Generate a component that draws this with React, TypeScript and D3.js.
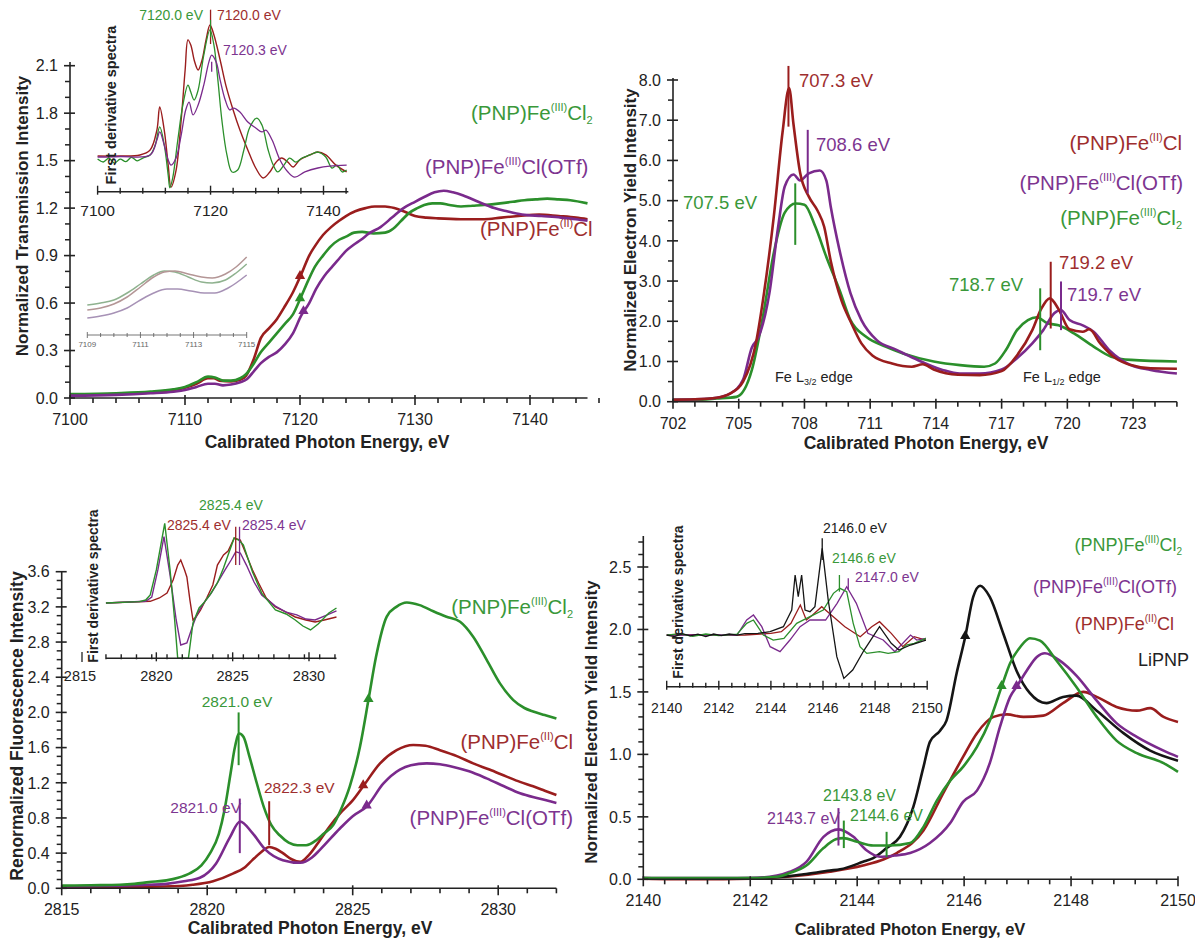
import React from "react";
import * as d3 from "d3";

type Pt = [number, number];

const GREEN = "#2b8f2b";
const RED = "#9a1d1d";
const PURPLE = "#7a2a8c";
const BLACK = "#151515";
const GREEN_T = "#3a983a";
const RED_T = "#9e2e2e";
const PURPLE_T = "#7d3590";
const AXIS = "#222";
const FONT = "'Liberation Sans', Arial, Helvetica, sans-serif";

// ---------------- Panel 1 : Fe K-edge transmission ----------------
const P1_RED: Pt[] = [[7100,0.02],[7104,0.025],[7107,0.035],[7109,0.05],[7110,0.065],[7111,0.09],[7112,0.125],[7112.5,0.125],[7113,0.11],[7114,0.105],[7114.8,0.115],[7115.3,0.14],[7116,0.25],[7116.6,0.38],[7117.3,0.44],[7118,0.5],[7118.6,0.57],[7119.4,0.67],[7120.1,0.78],[7120.8,0.9],[7121.3,0.96],[7122,1.03],[7122.7,1.08],[7123.4,1.12],[7124,1.15],[7124.8,1.18],[7125.7,1.2],[7126.5,1.21],[7127.4,1.21],[7128.2,1.2],[7129,1.18],[7130,1.15],[7131,1.14],[7132,1.135],[7134,1.13],[7136,1.13],[7137.5,1.14],[7139,1.15],[7140.8,1.16],[7142.5,1.15],[7144,1.14],[7145,1.13]];
const P1_GREEN: Pt[] = [[7100,0.025],[7104,0.03],[7107,0.04],[7109,0.055],[7110,0.07],[7111,0.1],[7112,0.135],[7112.6,0.13],[7113.3,0.11],[7114,0.11],[7114.8,0.125],[7115.3,0.15],[7116,0.22],[7116.6,0.29],[7117.3,0.35],[7118,0.41],[7118.7,0.47],[7119.4,0.53],[7120.1,0.64],[7120.7,0.74],[7121.3,0.83],[7122,0.9],[7122.7,0.96],[7123.4,1.0],[7124,1.02],[7124.7,1.045],[7125.4,1.05],[7126.4,1.04],[7127.4,1.045],[7128.1,1.07],[7128.8,1.12],[7129.5,1.17],[7130.2,1.2],[7130.8,1.22],[7131.5,1.23],[7132.2,1.23],[7133,1.22],[7134,1.21],[7135,1.215],[7136,1.22],[7137.4,1.23],[7138.5,1.24],[7139.5,1.25],[7140.5,1.255],[7141.5,1.26],[7142.5,1.255],[7143.5,1.25],[7145,1.23]];
const P1_PURPLE: Pt[] = [[7100,0.015],[7104,0.02],[7107,0.03],[7109,0.04],[7110,0.05],[7111,0.07],[7112,0.09],[7112.6,0.09],[7113.3,0.08],[7114,0.085],[7114.8,0.1],[7115.4,0.12],[7116,0.17],[7116.6,0.22],[7117.3,0.26],[7118,0.29],[7118.7,0.34],[7119.4,0.41],[7120.1,0.52],[7120.8,0.6],[7121.4,0.69],[7122.1,0.77],[7122.8,0.83],[7123.4,0.88],[7124,0.93],[7124.7,0.97],[7125.3,1.0],[7126,1.04],[7127,1.08],[7128,1.14],[7129,1.2],[7130,1.24],[7130.8,1.27],[7131.7,1.3],[7132.5,1.31],[7133.3,1.3],[7134.2,1.28],[7135.5,1.24],[7136.9,1.2],[7138,1.18],[7139.3,1.16],[7141,1.15],[7142.7,1.14],[7144,1.13],[7145,1.12]];
const P1_X_TICKS = [7100, 7110, 7120, 7130, 7140];
const P1_Y_TICKS = [0, 0.3, 0.6, 0.9, 1.2, 1.5, 1.8, 2.1];
const P1_TRI = { red: 7120.0, green: 7120.0, purple: 7120.3 };

// inset 1: first derivative spectra (relative units)
const I1_RED: Pt[] = [[7100,0.208],[7104,0.208],[7107.5,0.214],[7109.3,0.243],[7110.5,0.359],[7111,0.493],[7111.8,0.359],[7112.5,0.155],[7113,0.027],[7113.9,0.126],[7114.8,0.418],[7115.5,0.709],[7116,0.884],[7116.5,0.854],[7117.2,0.755],[7117.8,0.709],[7118.5,0.767],[7119.2,0.884],[7119.9,0.971],[7120.6,0.913],[7121.7,0.767],[7122.7,0.621],[7124,0.476],[7125.2,0.359],[7126.6,0.243],[7128,0.138],[7129.3,0.08],[7130.5,0.115],[7131.6,0.172],[7132.6,0.196],[7133.7,0.172],[7134.6,0.144],[7135.8,0.185],[7137.6,0.214],[7139,0.231],[7140.4,0.214],[7142.2,0.155],[7144.1,0.115]];
const I1_GREEN: Pt[] = [[7100,0.19],[7101,0.173],[7102,0.196],[7103,0.167],[7104,0.19],[7105,0.175],[7106,0.2],[7107,0.18],[7108,0.196],[7109.3,0.214],[7110.2,0.272],[7111,0.377],[7111.8,0.272],[7112.5,0.097],[7112.8,0.022],[7113.3,0.08],[7114.2,0.301],[7115.1,0.505],[7116,0.621],[7116.5,0.58],[7117.1,0.534],[7117.8,0.592],[7118.8,0.796],[7119.9,0.942],[7120.6,0.854],[7121.3,0.65],[7122,0.418],[7122.9,0.214],[7123.8,0.115],[7124.8,0.126],[7125.9,0.243],[7126.9,0.371],[7128.2,0.429],[7129.1,0.388],[7130.2,0.243],[7131.1,0.155],[7131.9,0.115],[7133,0.155],[7134,0.196],[7135.1,0.172],[7136.2,0.196],[7137.6,0.214],[7139,0.231],[7140.4,0.202],[7141.5,0.138],[7142.4,0.155],[7143.3,0.115],[7144.1,0.126]];
const I1_PURPLE: Pt[] = [[7100,0.202],[7104,0.205],[7109.3,0.214],[7110.5,0.301],[7111,0.348],[7111.8,0.272],[7112.5,0.185],[7113,0.155],[7113.9,0.196],[7114.8,0.33],[7115.6,0.476],[7116.2,0.522],[7116.9,0.447],[7117.8,0.505],[7118.8,0.621],[7119.7,0.755],[7120.2,0.796],[7121,0.755],[7121.7,0.65],[7122.6,0.534],[7123.4,0.476],[7124.1,0.487],[7125.2,0.464],[7126.6,0.406],[7128,0.371],[7129.1,0.348],[7129.8,0.359],[7130.9,0.301],[7132.3,0.185],[7133.7,0.115],[7134.9,0.085],[7136.7,0.115],[7139,0.138],[7141.1,0.149],[7144.1,0.155]];
const I1_X_TICKS = [7100, 7120, 7140];
const I1_PEAK_LABELS = [7120.0, 7120.0, 7120.3];

// inset 2: pre-edge zoom
const I2_RED: Pt[] = [[7109,0.25],[7109.5,0.27],[7110,0.31],[7110.5,0.38],[7111,0.48],[7111.5,0.58],[7111.9,0.63],[7112.3,0.64],[7112.8,0.61],[7113.3,0.58],[7113.7,0.57],[7114.2,0.61],[7114.6,0.68],[7115,0.78]];
const I2_GREEN: Pt[] = [[7109,0.3],[7109.5,0.32],[7110,0.35],[7110.5,0.42],[7111,0.51],[7111.5,0.6],[7111.9,0.64],[7112.3,0.63],[7112.8,0.58],[7113.3,0.53],[7113.7,0.52],[7114.2,0.55],[7114.6,0.62],[7115,0.71]];
const I2_PURPLE: Pt[] = [[7109,0.17],[7109.5,0.19],[7110,0.22],[7110.5,0.27],[7111,0.35],[7111.5,0.42],[7112,0.46],[7112.4,0.46],[7112.9,0.44],[7113.4,0.42],[7113.8,0.42],[7114.3,0.47],[7115,0.6]];
const I2_X_TICKS = [7109, 7111, 7113, 7115];

// ---------------- Panel 2 : Fe L-edge ----------------
const P2_RED: Pt[] = [[702,0.05],[703,0.06],[704,0.1],[704.6,0.2],[705.2,0.5],[705.8,1.5],[706.1,2.5],[706.6,4.6],[707,6.7],[707.3,7.8],[707.5,6.9],[707.8,5.7],[708.2,5.1],[708.6,4.75],[708.9,4.35],[709.2,3.5],[709.7,2.5],[710.1,2.0],[710.6,1.45],[711.1,1.15],[712,0.95],[712.9,0.87],[713.4,0.93],[713.9,0.8],[715,0.67],[716,0.66],[717,0.76],[717.7,1.15],[718.4,1.78],[718.8,2.3],[719.2,2.57],[719.6,2.3],[720.1,1.8],[720.7,1.74],[721,1.8],[721.5,1.45],[722.2,1.08],[722.9,0.91],[723.8,0.83],[725,0.82]];
const P2_PURPLE: Pt[] = [[702,0.05],[703,0.06],[704,0.1],[704.6,0.2],[705.2,0.55],[705.6,1.35],[705.9,1.6],[706.4,2.7],[706.8,4.35],[707.1,5.35],[707.5,5.65],[707.8,5.5],[708.2,5.68],[708.7,5.75],[709,5.5],[709.2,4.85],[709.6,3.77],[710.1,2.7],[710.6,2.03],[711.3,1.53],[712.2,1.29],[713,1.08],[714.3,0.79],[715.1,0.7],[716,0.7],[717,0.8],[717.7,1.08],[718.4,1.45],[718.9,1.78],[719.4,2.2],[719.7,2.28],[720.1,2.03],[720.7,1.9],[721.2,1.74],[721.9,1.29],[722.9,0.91],[723.8,0.79],[725,0.7]];
const P2_GREEN: Pt[] = [[702,0.05],[703,0.05],[704,0.08],[704.9,0.12],[705.6,0.79],[706.1,2.1],[706.6,3.7],[707.1,4.7],[707.6,4.93],[708,4.9],[708.5,4.35],[709,3.6],[709.6,2.78],[710.1,2.03],[710.8,1.62],[711.7,1.37],[712.5,1.2],[713.9,1.0],[715.1,0.91],[716.2,0.87],[716.7,0.95],[717.2,1.29],[717.7,1.78],[718.2,2.03],[718.6,2.1],[719.1,1.95],[719.6,1.9],[720.3,1.7],[721.2,1.37],[722,1.12],[722.9,1.04],[725,1.0]];
const P2_X_TICKS = [702, 705, 708, 711, 714, 717, 720, 723];
const P2_Y_TICKS = [0, 1, 2, 3, 4, 5, 6, 7, 8];
// marker lines: [energy, top, bottom]
const P2_MARK_RED: [number, number, number][] = [[707.27, 8.35, 6.84], [719.24, 3.48, 1.82]];
const P2_MARK_PURPLE: [number, number, number][] = [[708.15, 6.76, 5.18], [719.71, 2.99, 1.78]];
const P2_MARK_GREEN: [number, number, number][] = [[707.58, 5.43, 3.9], [718.76, 2.82, 1.28]];
const P2_PEAK_LABELS = { red: [707.3, 719.2], purple: [708.6, 719.7], green: [707.5, 718.7] };

// ---------------- Panel 3 : S K-edge fluorescence ----------------
const P3_GREEN: Pt[] = [[2815,0.03],[2816,0.035],[2817,0.04],[2817.5,0.05],[2818,0.07],[2818.6,0.09],[2819,0.12],[2819.4,0.17],[2819.8,0.26],[2820.1,0.4],[2820.4,0.62],[2820.6,0.9],[2820.8,1.3],[2820.95,1.6],[2821.1,1.76],[2821.25,1.72],[2821.45,1.5],[2821.7,1.2],[2821.95,0.92],[2822.2,0.72],[2822.5,0.6],[2822.8,0.52],[2823.1,0.49],[2823.4,0.49],[2823.76,0.55],[2824,0.62],[2824.33,0.72],[2824.6,0.9],[2824.9,1.16],[2825.25,1.61],[2825.54,2.14],[2825.8,2.63],[2826.17,3.09],[2826.5,3.2],[2826.86,3.25],[2827.3,3.22],[2827.77,3.15],[2828.2,3.09],[2828.69,3.03],[2829.14,2.86],[2829.6,2.6],[2830.06,2.33],[2830.52,2.14],[2830.9,2.05],[2831.2,2.01],[2831.6,1.97],[2832,1.93]];
const P3_PURPLE: Pt[] = [[2815,0.02],[2816,0.025],[2817,0.03],[2818,0.04],[2818.6,0.05],[2819.2,0.08],[2819.75,0.12],[2820.3,0.28],[2820.78,0.58],[2821.13,0.76],[2821.55,0.63],[2822,0.44],[2822.6,0.32],[2823.2,0.29],[2823.6,0.35],[2823.88,0.44],[2824.56,0.68],[2825,0.82],[2825.48,0.93],[2826.05,1.19],[2826.62,1.35],[2827,1.4],[2827.54,1.42],[2828,1.41],[2828.46,1.38],[2829,1.33],[2829.6,1.25],[2830.2,1.16],[2830.75,1.08],[2831.4,1.02],[2832,0.97]];
const P3_RED: Pt[] = [[2815,0.01],[2817,0.015],[2818.5,0.02],[2819.5,0.04],[2820.2,0.08],[2820.9,0.17],[2821.3,0.24],[2821.55,0.32],[2821.85,0.41],[2822.13,0.47],[2822.35,0.45],[2822.6,0.4],[2822.9,0.33],[2823.2,0.3],[2823.5,0.38],[2823.88,0.55],[2824.2,0.7],[2824.56,0.85],[2825,1.0],[2825.36,1.16],[2825.94,1.42],[2826.51,1.57],[2827.08,1.63],[2827.5,1.62],[2828,1.57],[2828.6,1.5],[2829.14,1.42],[2829.7,1.35],[2830.29,1.27],[2830.75,1.21],[2831.2,1.16],[2831.6,1.11],[2832,1.06]];
const P3_X_TICKS = [2815, 2820, 2825, 2830];
const P3_Y_TICKS = [0, 0.4, 0.8, 1.2, 1.6, 2.0, 2.4, 2.8, 3.2, 3.6];
const P3_TRI = { green: 2825.54, red: 2825.36, purple: 2825.48 };
const P3_MARK_GREEN: [number, number, number] = [2821.08, 2.0, 1.4];
const P3_MARK_PURPLE: [number, number, number] = [2821.12, 1.02, 0.4];
const P3_MARK_RED: [number, number, number] = [2822.13, 0.99, 0.49];
const P3_PEAK_LABELS = { green: 2821.0, purple: 2821.0, red: 2822.3 };

const I3_GREEN: Pt[] = [[2816.7,0.349],[2818.9,0.358],[2819.3,0.368],[2819.6,0.4],[2820,0.558],[2820.55,0.853],[2820.9,0.558],[2821.2,0.242],[2821.4,0.0],[2822.1,0.0],[2822.4,0.223],[2822.8,0.318],[2823.1,0.349],[2823.5,0.4],[2824,0.476],[2824.4,0.57],[2824.7,0.653],[2825.1,0.76],[2825.4,0.747],[2825.7,0.716],[2826.3,0.545],[2826.9,0.412],[2827.8,0.305],[2828.5,0.28],[2829.1,0.242],[2829.6,0.204],[2830.1,0.179],[2830.6,0.217],[2831.3,0.286],[2831.8,0.318]];
const I3_PURPLE: Pt[] = [[2816.7,0.349],[2819.3,0.36],[2819.7,0.387],[2820.1,0.558],[2820.5,0.768],[2820.9,0.526],[2821.3,0.242],[2821.6,0.084],[2822,0.097],[2822.4,0.21],[2822.7,0.286],[2823.1,0.349],[2823.6,0.412],[2824,0.476],[2824.5,0.558],[2824.9,0.621],[2825.2,0.672],[2825.5,0.665],[2825.9,0.589],[2826.4,0.482],[2826.9,0.4],[2827.8,0.33],[2828.5,0.292],[2829.2,0.274],[2829.8,0.248],[2830.4,0.242],[2831,0.267],[2831.8,0.299]];
const I3_RED: Pt[] = [[2816.7,0.349],[2819.6,0.36],[2820.2,0.381],[2820.7,0.412],[2821.1,0.495],[2821.4,0.589],[2821.6,0.621],[2821.85,0.558],[2822,0.514],[2822.2,0.368],[2822.4,0.242],[2822.6,0.261],[2822.9,0.305],[2823.3,0.381],[2823.7,0.463],[2824,0.589],[2824.4,0.653],[2824.7,0.678],[2825.1,0.76],[2825.5,0.747],[2825.9,0.653],[2826.3,0.558],[2826.7,0.476],[2827.2,0.381],[2827.8,0.324],[2828.5,0.292],[2829.1,0.261],[2829.8,0.242],[2830.4,0.229],[2831,0.242],[2831.8,0.261]];
const I3_X_TICKS = [2815, 2820, 2825, 2830];
const I3_MARKS: [number, number, number][] = [[2825.2, 0.831, 0.589], [2825.45, 0.831, 0.589]];
const I3_PEAK_LABELS = [2825.4, 2825.4, 2825.4];

// ---------------- Panel 4 : P K-edge ----------------
const P4_BLACK: Pt[] = [[2140,0.01],[2141,0.005],[2142,0.01],[2142.6,0.02],[2143,0.04],[2143.49,0.07],[2143.68,0.08],[2144.11,0.14],[2144.3,0.17],[2144.55,0.25],[2144.8,0.34],[2145.05,0.58],[2145.24,0.9],[2145.36,1.1],[2145.55,1.19],[2145.67,1.27],[2145.86,1.65],[2146.02,1.94],[2146.17,2.26],[2146.3,2.35],[2146.48,2.26],[2146.73,1.97],[2146.98,1.67],[2147.23,1.49],[2147.54,1.41],[2147.85,1.46],[2148.1,1.47],[2148.48,1.35],[2148.98,1.17],[2149.48,1.03],[2150,0.95]];
const P4_GREEN: Pt[] = [[2140,0.01],[2141,0.01],[2142,0.01],[2142.5,0.02],[2142.74,0.05],[2143.05,0.11],[2143.37,0.25],[2143.6,0.32],[2143.74,0.33],[2144,0.3],[2144.3,0.27],[2144.61,0.27],[2144.99,0.29],[2145.24,0.42],[2145.49,0.63],[2145.74,0.79],[2145.98,0.9],[2146.24,1.06],[2146.48,1.27],[2146.7,1.54],[2146.86,1.73],[2147.05,1.86],[2147.23,1.93],[2147.42,1.91],[2147.73,1.75],[2148.1,1.54],[2148.48,1.3],[2148.85,1.11],[2149.23,1.01],[2149.73,0.93],[2150,0.86]];
const P4_PURPLE: Pt[] = [[2140,0.01],[2141,0.01],[2142,0.01],[2142.5,0.03],[2142.74,0.06],[2143.05,0.14],[2143.37,0.34],[2143.65,0.4],[2143.93,0.34],[2144.18,0.23],[2144.43,0.18],[2144.7,0.19],[2144.99,0.21],[2145.36,0.29],[2145.74,0.45],[2145.98,0.62],[2146.24,0.71],[2146.48,0.93],[2146.67,1.22],[2146.86,1.46],[2146.98,1.54],[2147.17,1.67],[2147.36,1.78],[2147.51,1.81],[2147.79,1.75],[2148.1,1.63],[2148.48,1.43],[2148.85,1.25],[2149.23,1.14],[2149.73,1.03],[2150,0.98]];
const P4_RED: Pt[] = [[2140,0.005],[2141,0.0],[2142,0.005],[2142.7,0.02],[2143.49,0.06],[2144.11,0.11],[2144.5,0.16],[2144.74,0.21],[2145.24,0.39],[2145.61,0.69],[2145.98,0.98],[2146.24,1.17],[2146.55,1.3],[2146.8,1.32],[2147.11,1.3],[2147.48,1.31],[2147.85,1.41],[2148.23,1.5],[2148.48,1.46],[2148.85,1.38],[2149.23,1.35],[2149.48,1.37],[2149.73,1.3],[2150,1.26]];
const P4_X_TICKS = [2140, 2142, 2144, 2146, 2148, 2150];
const P4_Y_TICKS = [0, 0.5, 1.0, 1.5, 2.0, 2.5];
const P4_TRI = { black: 2146.02, green: 2146.7, purple: 2146.98 };
const P4_MARK_PURPLE: [number, number, number] = [2143.65, 0.57, 0.27];
const P4_MARK_GREEN: [number, number, number][] = [[2143.75, 0.47, 0.25], [2144.55, 0.38, 0.18]];
const P4_PEAK_LABELS = { purple: 2143.7, green: [2143.8, 2144.6] };

const I4_BLACK: Pt[] = [[2140,0.31],[2140.3,0.3],[2140.6,0.318],[2140.9,0.305],[2141.2,0.315],[2141.5,0.3],[2141.8,0.316],[2142.1,0.306],[2142.4,0.316],[2142.7,0.31],[2143,0.318],[2143.5,0.32],[2143.97,0.33],[2144.48,0.36],[2144.8,0.46],[2144.93,0.67],[2145.05,0.54],[2145.18,0.67],[2145.31,0.46],[2145.5,0.45],[2145.69,0.48],[2145.97,0.83],[2146.2,0.52],[2146.53,0.18],[2146.8,0.05],[2147.14,0.1],[2147.58,0.22],[2148.17,0.36],[2148.62,0.26],[2148.91,0.22],[2149.36,0.25],[2149.95,0.28]];
const I4_GREEN: Pt[] = [[2140,0.31],[2140.5,0.318],[2141,0.302],[2141.5,0.316],[2142,0.306],[2142.7,0.315],[2143.07,0.38],[2143.33,0.4],[2143.71,0.31],[2144.09,0.28],[2144.5,0.29],[2144.99,0.38],[2145.5,0.42],[2146.01,0.46],[2146.4,0.56],[2146.65,0.59],[2146.91,0.57],[2147.16,0.38],[2147.42,0.24],[2147.68,0.2],[2148.17,0.21],[2148.5,0.2],[2148.91,0.21],[2149.2,0.25],[2149.5,0.26],[2149.95,0.29]];
const I4_PURPLE: Pt[] = [[2140,0.31],[2141,0.31],[2142,0.31],[2142.7,0.31],[2143.07,0.4],[2143.33,0.43],[2143.65,0.36],[2143.97,0.24],[2144.35,0.21],[2144.73,0.28],[2145.12,0.36],[2145.5,0.4],[2146.1,0.4],[2146.54,0.5],[2146.91,0.6],[2147.28,0.5],[2147.72,0.32],[2148.31,0.28],[2148.76,0.21],[2149,0.25],[2149.36,0.31],[2149.6,0.28],[2149.95,0.29]];
const I4_RED: Pt[] = [[2140,0.31],[2141,0.312],[2142,0.308],[2143,0.31],[2144,0.32],[2144.4,0.33],[2144.77,0.38],[2145.13,0.49],[2145.36,0.4],[2145.6,0.43],[2145.95,0.48],[2146.24,0.44],[2146.84,0.36],[2147.43,0.3],[2147.87,0.36],[2148.17,0.39],[2148.62,0.32],[2149.06,0.24],[2149.5,0.3],[2149.95,0.28]];
const I4_X_TICKS = [2140, 2142, 2144, 2146, 2148, 2150];
const I4_MARKS: { black: [number, number, number]; green: [number, number, number]; purple: [number, number, number] } = {
  black: [2145.97, 0.89, 0.76],
  green: [2146.63, 0.67, 0.57],
  purple: [2146.97, 0.65, 0.58],
};
const I4_PEAK_LABELS = { black: 2146.0, green: 2146.6, purple: 2147.0 };

// compound names
const NAME_CL2 = { ox: "(III)", tail: "Cl", sub: "2" };
const NAME_OTF = { ox: "(III)", tail: "Cl(OTf)", sub: "" };
const NAME_CL = { ox: "(II)", tail: "Cl", sub: "" };

// ---------------- helpers ----------------
type Scale = d3.ScaleLinear<number, number>;

function steps(lo: number, hi: number, step: number) {
  const n = Math.round((hi - lo) / step);
  return d3.range(n + 1).map((i) => +(lo + i * step).toFixed(6));
}

function linePath(data: Pt[], xs: Scale, ys: Scale, curve: d3.CurveFactory = d3.curveMonotoneX) {
  return d3.line<Pt>().x((d) => xs(d[0])).y((d) => ys(d[1])).curve(curve)(data) || "";
}

function valueAt(data: Pt[], x: number) {
  for (let i = 1; i < data.length; i++) {
    if (data[i][0] >= x) {
      const [x0, y0] = data[i - 1];
      const [x1, y1] = data[i];
      return y0 + ((y1 - y0) * (x - x0)) / (x1 - x0);
    }
  }
  return data[data.length - 1][1];
}

const triPath = d3.symbol().type(d3.symbolTriangle).size(46)() || "";

function Tri({ x, y, color }: { x: number; y: number; color: string }) {
  return <path d={triPath} transform={`translate(${x},${y - 1})`} fill={color} />;
}

interface XAxisOpts {
  s: Scale; y: number; lo: number; hi: number; majors: number[]; minorStep: number;
  fmt: (v: number) => string; fs: number; dy: number;
  maj?: [number, number]; min?: [number, number]; sw?: number; color?: string; weight?: number;
}
function XAxis(o: XAxisOpts) {
  const maj = o.maj || [-3, 7];
  const mn = o.min || [0, 5];
  const sw = o.sw || 1.6;
  const color = o.color || AXIS;
  const minors = steps(o.lo, o.hi, o.minorStep).filter((v) => !o.majors.some((m) => Math.abs(m - v) < 1e-6));
  const inMaj = o.majors.filter((m) => m >= o.lo - 1e-6 && m <= o.hi + 1e-6);
  return (
    <g>
      <line x1={o.s(o.lo)} x2={o.s(o.hi)} y1={o.y} y2={o.y} stroke={color} strokeWidth={sw} />
      {minors.map((v) => (
        <line key={"n" + v} x1={o.s(v)} x2={o.s(v)} y1={o.y + mn[0]} y2={o.y + mn[1]} stroke={color} strokeWidth={sw} />
      ))}
      {inMaj.map((v) => (
        <line key={"m" + v} x1={o.s(v)} x2={o.s(v)} y1={o.y + maj[0]} y2={o.y + maj[1]} stroke={color} strokeWidth={sw} />
      ))}
      {o.majors.map((v) => (
        <text key={"t" + v} x={o.s(v)} y={o.y + o.dy} textAnchor="middle" fontSize={o.fs} fill={color} fontFamily={FONT}>
          {o.fmt(v)}
        </text>
      ))}
    </g>
  );
}

interface YAxisOpts {
  s: Scale; x: number; lo: number; hi: number; majors: number[]; minorStep: number;
  fmt: (v: number) => string; fs: number; top?: number;
}
function YAxis(o: YAxisOpts) {
  const minors = steps(o.lo, o.hi, o.minorStep).filter((v) => !o.majors.some((m) => Math.abs(m - v) < 1e-6));
  const top = o.top !== undefined ? o.top : o.s(o.hi);
  return (
    <g>
      <line x1={o.x} x2={o.x} y1={o.s(o.lo)} y2={top} stroke={AXIS} strokeWidth={1.6} />
      {minors.map((v) => (
        <line key={"n" + v} x1={o.x - 5} x2={o.x} y1={o.s(v)} y2={o.s(v)} stroke={AXIS} strokeWidth={1.5} />
      ))}
      {o.majors.map((v) => (
        <line key={"m" + v} x1={o.x - 6} x2={o.x + 5} y1={o.s(v)} y2={o.s(v)} stroke={AXIS} strokeWidth={1.6} />
      ))}
      {o.majors.map((v) => (
        <text key={"t" + v} x={o.x - 12} y={o.s(v) + o.fs * 0.36} textAnchor="end" fontSize={o.fs} fill={AXIS} fontFamily={FONT}>
          {o.fmt(v)}
        </text>
      ))}
    </g>
  );
}

function Chem({ x, y, size, color, name, anchor = "start" }: { x: number; y: number; size: number; color: string; name: { ox: string; tail: string; sub: string }; anchor?: string }) {
  const s = Math.round(size * 0.56);
  const up = size * 0.42;
  return (
    <text x={x} y={y} fontSize={size} fill={color} textAnchor={anchor as any} fontFamily={FONT}>
      <tspan>(PNP)Fe</tspan>
      <tspan fontSize={s} dy={-up}>{name.ox}</tspan>
      <tspan fontSize={size} dy={up}>{name.tail}</tspan>
      {name.sub ? <tspan fontSize={s} dy={size * 0.2}>{name.sub}</tspan> : null}
    </text>
  );
}

function VTitle({ x, y, text, fs, weight = "bold" }: { x: number; y: number; text: string; fs: number; weight?: string }) {
  return (
    <text transform={`translate(${x + fs * 0.36},${y}) rotate(-90)`} textAnchor="middle" fontSize={fs} fontWeight={weight} fill={AXIS} fontFamily={FONT}>
      {text}
    </text>
  );
}

function Lbl({ x, y, text, color, fs, anchor = "start" }: { x: number; y: number; text: string; color: string; fs: number; anchor?: string }) {
  return (
    <text x={x} y={y} fontSize={fs} fill={color} textAnchor={anchor as any} fontFamily={FONT}>
      {text}
    </text>
  );
}

function MarkLine({ xs, ys, m, color, w = 1.8 }: { xs: Scale; ys: Scale; m: [number, number, number]; color: string; w?: number }) {
  return <line x1={xs(m[0])} x2={xs(m[0])} y1={ys(m[1])} y2={ys(m[2])} stroke={color} strokeWidth={w} />;
}

const ev = (v: number) => `${v.toFixed(1)} eV`;
const f0 = d3.format("d");
const f1 = d3.format(".1f");

export default function App() {
  // scales
  const p1x = d3.scaleLinear().domain([7100, 7145]).range([70, 587.5]);
  const p1y = d3.scaleLinear().domain([0, 2.1]).range([398, 65.7]);
  const i1x = d3.scaleLinear().domain([7100, 7140]).range([97.6, 323.5]);
  const i1y = d3.scaleLinear().domain([0, 1]).range([191.7, 20]);
  const i2x = d3.scaleLinear().domain([7109, 7115]).range([87.3, 246.7]);
  const i2y = d3.scaleLinear().domain([0, 1]).range([335, 235]);

  const p2x = d3.scaleLinear().domain([702, 725]).range([673, 1176.9]);
  const p2y = d3.scaleLinear().domain([0, 8]).range([401.7, 80]);

  const p3x = d3.scaleLinear().domain([2815, 2832]).range([61.7, 556.4]);
  const p3y = d3.scaleLinear().domain([0, 3.6]).range([888.3, 571.7]);
  const i3x = d3.scaleLinear().domain([2815, 2830]).range([80, 309]);
  const i3y = d3.scaleLinear().domain([0, 1]).range([658.3, 500]);

  const p4x = d3.scaleLinear().domain([2140, 2150]).range([643.3, 1178]);
  const p4y = d3.scaleLinear().domain([0, 2.5]).range([879.3, 567]);
  const i4x = d3.scaleLinear().domain([2140, 2150]).range([666.7, 927.2]);
  const i4y = d3.scaleLinear().domain([0, 1]).range([686.7, 520]);

  const cr = d3.curveCatmullRom.alpha(0.5);
  const lin = d3.curveLinear;
  const I2_GREEN_C = "#8fb28f";
  const I2_RED_C = "#b49696";
  const I2_PURPLE_C = "#a792b6";

  return (
    <svg width={1195} height={940} style={{ position: "absolute", left: 0, top: 0, background: "#fff" }} fontFamily={FONT}>
      <rect x={0} y={0} width={1195} height={940} fill="#fff" />

      {/* ================= Panel 1 ================= */}
      <g>
        {/* inset 1 derivative */}
        <path d={linePath(I1_RED, i1x, i1y, cr)} fill="none" stroke={RED} strokeWidth={1.4} />
        <path d={linePath(I1_GREEN, i1x, i1y, cr)} fill="none" stroke={GREEN} strokeWidth={1.3} />
        <path d={linePath(I1_PURPLE, i1x, i1y, cr)} fill="none" stroke={PURPLE} strokeWidth={1.3} />
        <line x1={i1x(7120)} x2={i1x(7120)} y1={i1y(1.06)} y2={i1y(0.86)} stroke={RED} strokeWidth={1.3} />
        <line x1={i1x(7120)} x2={i1x(7120)} y1={i1y(1.0)} y2={i1y(0.9)} stroke={GREEN} strokeWidth={1.1} />
        <line x1={i1x(7120.2)} x2={i1x(7120.2)} y1={i1y(0.757)} y2={i1y(0.699)} stroke={PURPLE} strokeWidth={1.3} />
        <Lbl x={203} y={20} text={ev(I1_PEAK_LABELS[0])} color={GREEN_T} fs={14} anchor="end" />
        <Lbl x={217} y={20} text={ev(I1_PEAK_LABELS[1])} color={RED_T} fs={14} />
        <Lbl x={223} y={55} text={ev(I1_PEAK_LABELS[2])} color={PURPLE_T} fs={14} />
        <XAxis s={i1x} y={191.7} lo={7100} hi={7144.4} majors={I1_X_TICKS} minorStep={4} fmt={f0} fs={15.5} dy={24} maj={[-6, 3]} min={[-4, 2]} sw={1.4} />
        <VTitle x={111} y={105} text="First derivative spectra" fs={14.5} />

        {/* inset 2 pre-edge */}
        <path d={linePath(I2_GREEN, i2x, i2y)} fill="none" stroke={I2_GREEN_C} strokeWidth={1.5} />
        <path d={linePath(I2_RED, i2x, i2y)} fill="none" stroke={I2_RED_C} strokeWidth={1.5} />
        <path d={linePath(I2_PURPLE, i2x, i2y)} fill="none" stroke={I2_PURPLE_C} strokeWidth={1.5} />
        <XAxis s={i2x} y={335} lo={7109} hi={7115} majors={I2_X_TICKS} minorStep={0.5} fmt={f0} fs={8} dy={12} maj={[-3, 3]} min={[-2, 2]} sw={0.9} color="#666" />

        {/* main */}
        <path d={linePath(P1_RED, p1x, p1y)} fill="none" stroke={RED} strokeWidth={2.6} />
        <path d={linePath(P1_GREEN, p1x, p1y)} fill="none" stroke={GREEN} strokeWidth={2.6} />
        <path d={linePath(P1_PURPLE, p1x, p1y)} fill="none" stroke={PURPLE} strokeWidth={2.6} />
        <Tri x={p1x(P1_TRI.red)} y={p1y(valueAt(P1_RED, P1_TRI.red))} color={RED} />
        <Tri x={p1x(P1_TRI.green)} y={p1y(valueAt(P1_GREEN, P1_TRI.green))} color={GREEN} />
        <Tri x={p1x(P1_TRI.purple)} y={p1y(valueAt(P1_PURPLE, P1_TRI.purple))} color={PURPLE} />
        <YAxis s={p1y} x={70} lo={0} hi={2.1} majors={P1_Y_TICKS} minorStep={0.1} fmt={f1} fs={16} top={62} />
        <XAxis s={p1x} y={398} lo={7100} hi={7145} majors={P1_X_TICKS} minorStep={2} fmt={f0} fs={16} dy={27} />
        <VTitle x={22} y={216} text="Normalized Transmission Intensity" fs={17} />
        <text x={327} y={448} textAnchor="middle" fontSize={17.5} fontWeight="bold" fill={AXIS}>Calibrated Photon Energy, eV</text>
        <Chem x={471} y={120} size={20.5} color={GREEN_T} name={NAME_CL2} />
        <Chem x={425} y={174} size={20.5} color={PURPLE_T} name={NAME_OTF} />
        <Chem x={480} y={236} size={20.5} color={RED_T} name={NAME_CL} />
      </g>

      {/* ================= Panel 2 ================= */}
      <g>
        <path d={linePath(P2_GREEN, p2x, p2y)} fill="none" stroke={GREEN} strokeWidth={2.6} />
        <path d={linePath(P2_PURPLE, p2x, p2y)} fill="none" stroke={PURPLE} strokeWidth={2.6} />
        <path d={linePath(P2_RED, p2x, p2y)} fill="none" stroke={RED} strokeWidth={2.6} />
        {P2_MARK_RED.map((m, i) => <MarkLine key={"r" + i} xs={p2x} ys={p2y} m={m} color={RED} w={2} />)}
        {P2_MARK_PURPLE.map((m, i) => <MarkLine key={"p" + i} xs={p2x} ys={p2y} m={m} color={PURPLE} w={2} />)}
        {P2_MARK_GREEN.map((m, i) => <MarkLine key={"g" + i} xs={p2x} ys={p2y} m={m} color={GREEN} w={2} />)}
        <Lbl x={799} y={87} text={ev(P2_PEAK_LABELS.red[0])} color={RED_T} fs={18.5} />
        <Lbl x={816} y={151} text={ev(P2_PEAK_LABELS.purple[0])} color={PURPLE_T} fs={18.5} />
        <Lbl x={683} y={209} text={ev(P2_PEAK_LABELS.green[0])} color={GREEN_T} fs={18.5} />
        <Lbl x={1059} y={269} text={ev(P2_PEAK_LABELS.red[1])} color={RED_T} fs={18.5} />
        <Lbl x={949} y={291} text={ev(P2_PEAK_LABELS.green[1])} color={GREEN_T} fs={18.5} />
        <Lbl x={1067} y={301} text={ev(P2_PEAK_LABELS.purple[1])} color={PURPLE_T} fs={18.5} />
        <text x={775} y={382} fontSize={14.5} fill={AXIS}>
          <tspan>Fe L</tspan><tspan fontSize={9} dy={3}>3/2</tspan><tspan dy={-3}> edge</tspan>
        </text>
        <text x={1023} y={382} fontSize={14.5} fill={AXIS}>
          <tspan>Fe L</tspan><tspan fontSize={9} dy={3}>1/2</tspan><tspan dy={-3}> edge</tspan>
        </text>
        <YAxis s={p2y} x={673} lo={0} hi={8} majors={P2_Y_TICKS} minorStep={0.5} fmt={f1} fs={16} top={78} />
        <XAxis s={p2x} y={401.7} lo={702} hi={725} majors={P2_X_TICKS} minorStep={1} fmt={f0} fs={16} dy={27} />
        <VTitle x={630} y={230} text="Normalized Electron Yield Intensity" fs={17} />
        <text x={926} y={449} textAnchor="middle" fontSize={17.5} fontWeight="bold" fill={AXIS}>Calibrated Photon Energy, eV</text>
        <Chem x={1182} y={150} size={20.5} color={RED_T} name={NAME_CL} anchor="end" />
        <Chem x={1183} y={190} size={20.5} color={PURPLE_T} name={NAME_OTF} anchor="end" />
        <Chem x={1182} y={225} size={20.5} color={GREEN_T} name={NAME_CL2} anchor="end" />
      </g>

      {/* ================= Panel 3 ================= */}
      <g>
        {/* inset 3 */}
        <path d={linePath(I3_RED, i3x, i3y, lin)} fill="none" stroke={RED} strokeWidth={1.4} />
        <path d={linePath(I3_PURPLE, i3x, i3y, lin)} fill="none" stroke={PURPLE} strokeWidth={1.4} />
        <path d={linePath(I3_GREEN, i3x, i3y, lin)} fill="none" stroke={GREEN} strokeWidth={1.4} />
        <MarkLine xs={i3x} ys={i3y} m={I3_MARKS[0]} color={RED} w={1.3} />
        <MarkLine xs={i3x} ys={i3y} m={I3_MARKS[1]} color={PURPLE} w={1.3} />
        <Lbl x={231} y={510} text={ev(I3_PEAK_LABELS[0])} color={GREEN_T} fs={14} anchor="middle" />
        <Lbl x={167} y={530} text={ev(I3_PEAK_LABELS[1])} color={RED_T} fs={14} />
        <Lbl x={242} y={530} text={ev(I3_PEAK_LABELS[2])} color={PURPLE_T} fs={14} />
        <XAxis s={i3x} y={658.3} lo={2816.7} hi={2831.8} majors={I3_X_TICKS} minorStep={1} fmt={f0} fs={14.5} dy={23} maj={[-6, 3]} min={[-4, 1]} sw={1.4} />
        <line x1={82} x2={82} y1={652} y2={662} stroke={AXIS} strokeWidth={1.3} />
        <VTitle x={93} y={586} text="First derivative spectra" fs={14} />

        {/* main */}
        <path d={linePath(P3_RED, p3x, p3y)} fill="none" stroke={RED} strokeWidth={2.6} />
        <path d={linePath(P3_PURPLE, p3x, p3y)} fill="none" stroke={PURPLE} strokeWidth={2.6} />
        <path d={linePath(P3_GREEN, p3x, p3y)} fill="none" stroke={GREEN} strokeWidth={2.6} />
        <Tri x={p3x(P3_TRI.green)} y={p3y(valueAt(P3_GREEN, P3_TRI.green))} color={GREEN} />
        <Tri x={p3x(P3_TRI.red)} y={p3y(valueAt(P3_RED, P3_TRI.red))} color={RED} />
        <Tri x={p3x(P3_TRI.purple)} y={p3y(valueAt(P3_PURPLE, P3_TRI.purple))} color={PURPLE} />
        <MarkLine xs={p3x} ys={p3y} m={P3_MARK_GREEN} color={GREEN} w={2} />
        <MarkLine xs={p3x} ys={p3y} m={P3_MARK_PURPLE} color={PURPLE} w={2} />
        <MarkLine xs={p3x} ys={p3y} m={P3_MARK_RED} color={RED} w={2} />
        <Lbl x={237} y={707} text={ev(P3_PEAK_LABELS.green)} color={GREEN_T} fs={15.5} anchor="middle" />
        <Lbl x={241} y={813} text={ev(P3_PEAK_LABELS.purple)} color={PURPLE_T} fs={15.5} anchor="end" />
        <Lbl x={264} y={793} text={ev(P3_PEAK_LABELS.red)} color={RED_T} fs={15.5} />
        <YAxis s={p3y} x={61.7} lo={0} hi={3.6} majors={P3_Y_TICKS} minorStep={0.1} fmt={f1} fs={16} />
        <XAxis s={p3x} y={888.3} lo={2815} hi={2832} majors={P3_X_TICKS} minorStep={1} fmt={f0} fs={16} dy={27} />
        <VTitle x={17} y={726} text="Renormalized Fluorescence Intensity" fs={17.5} />
        <text x={310} y={934} textAnchor="middle" fontSize={17.5} fontWeight="bold" fill={AXIS}>Calibrated Photon Energy, eV</text>
        <Chem x={573} y={614} size={20.5} color={GREEN_T} name={NAME_CL2} anchor="end" />
        <Chem x={573} y={749} size={20.5} color={RED_T} name={NAME_CL} anchor="end" />
        <Chem x={573} y={825} size={20.5} color={PURPLE_T} name={NAME_OTF} anchor="end" />
      </g>

      {/* ================= Panel 4 ================= */}
      <g>
        {/* inset 4 */}
        <path d={linePath(I4_RED, i4x, i4y, lin)} fill="none" stroke={RED} strokeWidth={1.3} />
        <path d={linePath(I4_PURPLE, i4x, i4y, lin)} fill="none" stroke={PURPLE} strokeWidth={1.3} />
        <path d={linePath(I4_GREEN, i4x, i4y, lin)} fill="none" stroke={GREEN} strokeWidth={1.3} />
        <path d={linePath(I4_BLACK, i4x, i4y, lin)} fill="none" stroke={BLACK} strokeWidth={1.3} />
        <MarkLine xs={i4x} ys={i4y} m={I4_MARKS.black} color={BLACK} w={1.3} />
        <MarkLine xs={i4x} ys={i4y} m={I4_MARKS.green} color={GREEN} w={1.3} />
        <MarkLine xs={i4x} ys={i4y} m={I4_MARKS.purple} color={PURPLE} w={1.3} />
        <Lbl x={823} y={533} text={ev(I4_PEAK_LABELS.black)} color={AXIS} fs={14} />
        <Lbl x={832} y={563} text={ev(I4_PEAK_LABELS.green)} color={GREEN_T} fs={14} />
        <Lbl x={855} y={582} text={ev(I4_PEAK_LABELS.purple)} color={PURPLE_T} fs={14} />
        <XAxis s={i4x} y={686.7} lo={2140} hi={2150} majors={I4_X_TICKS} minorStep={0.5} fmt={f0} fs={14} dy={26} maj={[-6, 3]} min={[-4, 1]} sw={1.4} />
        <VTitle x={678} y={602} text="First derivative spectra" fs={14} />

        {/* main */}
        <path d={linePath(P4_RED, p4x, p4y)} fill="none" stroke={RED} strokeWidth={2.6} />
        <path d={linePath(P4_BLACK, p4x, p4y)} fill="none" stroke={BLACK} strokeWidth={2.6} />
        <path d={linePath(P4_PURPLE, p4x, p4y)} fill="none" stroke={PURPLE} strokeWidth={2.6} />
        <path d={linePath(P4_GREEN, p4x, p4y)} fill="none" stroke={GREEN} strokeWidth={2.6} />
        <Tri x={p4x(P4_TRI.black)} y={p4y(valueAt(P4_BLACK, P4_TRI.black))} color={BLACK} />
        <Tri x={p4x(P4_TRI.green)} y={p4y(valueAt(P4_GREEN, P4_TRI.green))} color={GREEN} />
        <Tri x={p4x(P4_TRI.purple)} y={p4y(valueAt(P4_PURPLE, P4_TRI.purple))} color={PURPLE} />
        <MarkLine xs={p4x} ys={p4y} m={P4_MARK_PURPLE} color={PURPLE} w={2} />
        {P4_MARK_GREEN.map((m, i) => <MarkLine key={"g4" + i} xs={p4x} ys={p4y} m={m} color={GREEN} w={2} />)}
        <Lbl x={840} y={824} text={ev(P4_PEAK_LABELS.purple)} color={PURPLE_T} fs={16} anchor="end" />
        <Lbl x={823} y={801} text={ev(P4_PEAK_LABELS.green[0])} color={GREEN_T} fs={16} />
        <Lbl x={850} y={821} text={ev(P4_PEAK_LABELS.green[1])} color={GREEN_T} fs={16} />
        <YAxis s={p4y} x={643.3} lo={0} hi={2.7} majors={P4_Y_TICKS} minorStep={0.1} fmt={f1} fs={16} top={536} />
        <XAxis s={p4x} y={879.3} lo={2140} hi={2150} majors={P4_X_TICKS} minorStep={0.4} fmt={f0} fs={16} dy={27} />
        <VTitle x={591} y={722} text="Normalized Electron Yield Intensity" fs={17} />
        <text x={910} y={935} textAnchor="middle" fontSize={16.5} fontWeight="bold" fill={AXIS}>Calibrated Photon Energy, eV</text>
        <Chem x={1182} y={551} size={18} color={GREEN_T} name={NAME_CL2} anchor="end" />
        <Chem x={1177} y={593} size={18} color={PURPLE_T} name={NAME_OTF} anchor="end" />
        <Chem x={1174} y={630} size={18} color={RED_T} name={NAME_CL} anchor="end" />
        <text x={1138} y={666} fontSize={18} fill={AXIS}>LiPNP</text>
      </g>
    </svg>
  );
}
